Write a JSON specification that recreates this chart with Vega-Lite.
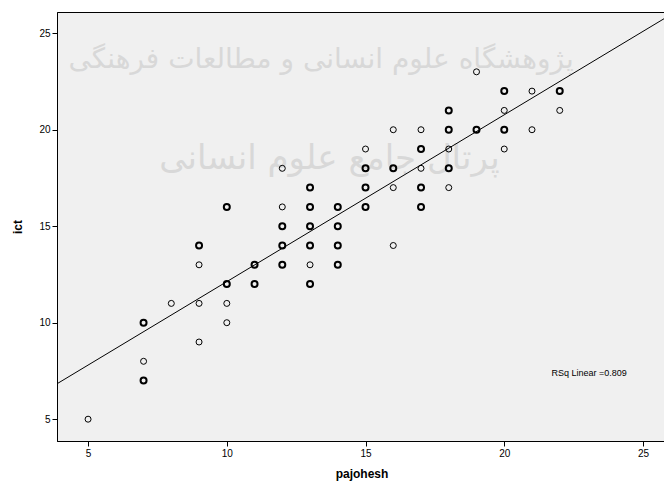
{
  "$schema": "https://vega.github.io/schema/vega-lite/v6.json",
  "autosize": "none",
  "width": 609,
  "height": 429,
  "padding": {"left": 57, "top": 12, "right": 0, "bottom": 44},
  "background": "white",
  "config": {
    "view": {"fill": "#f0f0f0", "stroke": "black", "strokeWidth": 1},
    "axis": {
      "grid": false,
      "domainColor": "black",
      "tickColor": "black",
      "tickSize": 5,
      "labelFont": "Liberation Sans",
      "labelFontSize": 10,
      "labelColor": "black",
      "titleFont": "Liberation Sans",
      "titleFontSize": 12,
      "titleFontWeight": "bold",
      "titleColor": "black"
    }
  },
  "datasets": {
    "points": [
      {"pajohesh": 5, "ict": 5},
      {"pajohesh": 7, "ict": 10}, {"pajohesh": 7, "ict": 10}, {"pajohesh": 7, "ict": 8}, {"pajohesh": 7, "ict": 7}, {"pajohesh": 7, "ict": 7},
      {"pajohesh": 8, "ict": 11},
      {"pajohesh": 9, "ict": 14}, {"pajohesh": 9, "ict": 14}, {"pajohesh": 9, "ict": 13}, {"pajohesh": 9, "ict": 11}, {"pajohesh": 9, "ict": 9},
      {"pajohesh": 10, "ict": 16}, {"pajohesh": 10, "ict": 16}, {"pajohesh": 10, "ict": 12}, {"pajohesh": 10, "ict": 12}, {"pajohesh": 10, "ict": 11}, {"pajohesh": 10, "ict": 10},
      {"pajohesh": 11, "ict": 13}, {"pajohesh": 11, "ict": 13}, {"pajohesh": 11, "ict": 12}, {"pajohesh": 11, "ict": 12},
      {"pajohesh": 12, "ict": 18}, {"pajohesh": 12, "ict": 16}, {"pajohesh": 12, "ict": 15}, {"pajohesh": 12, "ict": 15}, {"pajohesh": 12, "ict": 14}, {"pajohesh": 12, "ict": 14}, {"pajohesh": 12, "ict": 13}, {"pajohesh": 12, "ict": 13},
      {"pajohesh": 13, "ict": 17}, {"pajohesh": 13, "ict": 17}, {"pajohesh": 13, "ict": 16}, {"pajohesh": 13, "ict": 16}, {"pajohesh": 13, "ict": 15}, {"pajohesh": 13, "ict": 15}, {"pajohesh": 13, "ict": 14}, {"pajohesh": 13, "ict": 14}, {"pajohesh": 13, "ict": 13}, {"pajohesh": 13, "ict": 12}, {"pajohesh": 13, "ict": 12},
      {"pajohesh": 14, "ict": 16}, {"pajohesh": 14, "ict": 16}, {"pajohesh": 14, "ict": 15}, {"pajohesh": 14, "ict": 15}, {"pajohesh": 14, "ict": 14}, {"pajohesh": 14, "ict": 14}, {"pajohesh": 14, "ict": 13}, {"pajohesh": 14, "ict": 13},
      {"pajohesh": 15, "ict": 19}, {"pajohesh": 15, "ict": 18}, {"pajohesh": 15, "ict": 18}, {"pajohesh": 15, "ict": 17}, {"pajohesh": 15, "ict": 17}, {"pajohesh": 15, "ict": 16}, {"pajohesh": 15, "ict": 16},
      {"pajohesh": 16, "ict": 20}, {"pajohesh": 16, "ict": 18}, {"pajohesh": 16, "ict": 18}, {"pajohesh": 16, "ict": 17}, {"pajohesh": 16, "ict": 14},
      {"pajohesh": 17, "ict": 20}, {"pajohesh": 17, "ict": 19}, {"pajohesh": 17, "ict": 19}, {"pajohesh": 17, "ict": 18}, {"pajohesh": 17, "ict": 17}, {"pajohesh": 17, "ict": 17}, {"pajohesh": 17, "ict": 16}, {"pajohesh": 17, "ict": 16},
      {"pajohesh": 18, "ict": 21}, {"pajohesh": 18, "ict": 21}, {"pajohesh": 18, "ict": 20}, {"pajohesh": 18, "ict": 20}, {"pajohesh": 18, "ict": 19}, {"pajohesh": 18, "ict": 18}, {"pajohesh": 18, "ict": 18}, {"pajohesh": 18, "ict": 17},
      {"pajohesh": 19, "ict": 23}, {"pajohesh": 19, "ict": 20}, {"pajohesh": 19, "ict": 20},
      {"pajohesh": 20, "ict": 22}, {"pajohesh": 20, "ict": 22}, {"pajohesh": 20, "ict": 21}, {"pajohesh": 20, "ict": 20}, {"pajohesh": 20, "ict": 20}, {"pajohesh": 20, "ict": 19},
      {"pajohesh": 21, "ict": 22}, {"pajohesh": 21, "ict": 20},
      {"pajohesh": 22, "ict": 22}, {"pajohesh": 22, "ict": 22}, {"pajohesh": 22, "ict": 21}
    ],
    "watermark": [
      {"line": "پژوهشگاه علوم انسانی و مطالعات فرهنگی", "pajohesh": 13.4, "ict": 23.6}
    ],
    "watermark2": [
      {"line": "پرتال جامع علوم انسانی", "pajohesh": 13.7, "ict": 18.5}
    ],
    "note": [
      {"label": "RSq Linear =0.809", "pajohesh": 21.7, "ict": 7.4}
    ]
  },
  "data": {"name": "points"},
  "encoding": {
    "x": {
      "field": "pajohesh", "type": "quantitative", "title": "pajohesh",
      "scale": {"domain": [3.88, 25.83], "zero": false, "nice": false},
      "axis": {"values": [5, 10, 15, 20, 25], "labelPadding": 2, "titlePadding": 10}
    },
    "y": {
      "field": "ict", "type": "quantitative", "title": "ict",
      "scale": {"domain": [3.87, 26.1], "zero": false, "nice": false},
      "axis": {"values": [5, 10, 15, 20, 25], "labelPadding": 2, "titlePadding": 14}
    }
  },
  "layer": [
    {
      "data": {"name": "watermark"},
      "mark": {"type": "text", "font": "DejaVu Sans", "fontSize": 28, "color": "#d8d8d8"},
      "encoding": {
        "text": {"field": "line", "type": "nominal"}
      }
    },
    {
      "data": {"name": "watermark2"},
      "mark": {"type": "text", "font": "DejaVu Sans", "fontSize": 34, "color": "#d8d8d8"},
      "encoding": {
        "text": {"field": "line", "type": "nominal"}
      }
    },
    {
      "mark": {"type": "point", "shape": "circle", "filled": false, "color": "black", "size": 36, "opacity": 1},
      "encoding": {
        "strokeWidth": {"aggregate": "count", "type": "quantitative", "scale": {"domain": [1, 2], "range": [1, 2]}, "legend": null}
      }
    },
    {
      "transform": [{"regression": "ict", "on": "pajohesh", "extent": [3.88, 25.83]}],
      "mark": {"type": "line", "color": "black", "strokeWidth": 1, "clip": true}
    },
    {
      "data": {"name": "note"},
      "mark": {"type": "text", "font": "Liberation Sans", "fontSize": 9, "align": "left", "baseline": "middle", "color": "black"},
      "encoding": {
        "text": {"field": "label", "type": "nominal"}
      }
    }
  ]
}
